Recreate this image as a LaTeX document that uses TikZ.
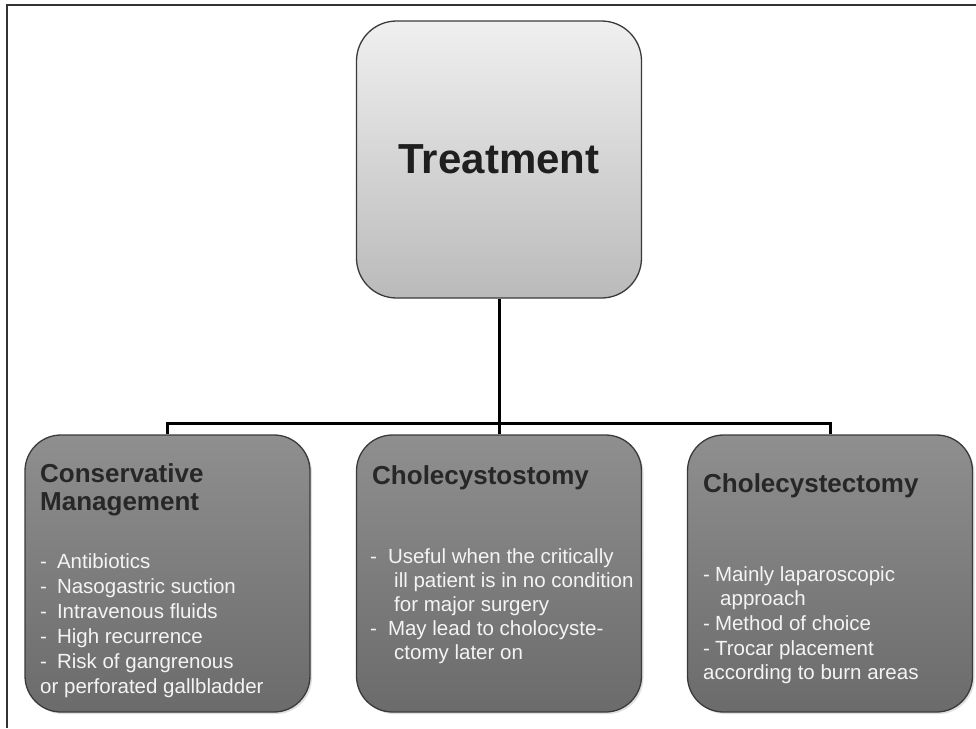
\documentclass[tikz,border=0pt]{standalone}
\usepackage{fontspec}
\setmainfont{Liberation Sans}
\usetikzlibrary{shadows}

\definecolor{boxedge}{HTML}{3A3A3A}
\definecolor{headtext}{HTML}{272727}
\definecolor{bodytext}{HTML}{F4F4F4}

\begin{document}
\begin{tikzpicture}[x=1pt, y=-1pt,
    topbox/.style={draw=boxedge, line width=1.3pt, rounded corners=40pt,
        minimum width=285pt, minimum height=277pt, inner sep=0pt,
        top color=black!6, bottom color=black!27},
    subbox/.style={draw=boxedge, line width=1.3pt, rounded corners=36pt,
        minimum width=285pt, minimum height=277pt, inner sep=0pt,
        top color=black!44, bottom color=black!58,
        drop shadow={opacity=0.25, shadow xshift=2pt, shadow yshift=-2pt}},
    heading/.style={anchor=north west, inner sep=0pt, align=left, text=headtext,
        font=\bfseries\fontsize{26pt}{28pt}\selectfont},
    bullets/.style={anchor=north west, inner sep=0pt, align=left, text=bodytext},
    link/.style={line width=3pt, black}]

    \useasboundingbox (0,0) rectangle (976,728);

    % Frame round the figure
    \draw[line width=2pt, black!80] (976,5) -- (7,5) -- (7,728);

    % Top box
    \node[topbox, text=black!88, font=\bfseries\fontsize{42pt}{48pt}\selectfont]
        (treat) at (499,159.5) {Treatment};

    % Three boxes below
    \node[subbox] (cons) at (167.5,573.5) {};
    \node[subbox] (stomy) at (499,573.5) {};
    \node[subbox] (ectomy) at (830,573.5) {};

    % Connectors
    \coordinate (bus) at (499,423);
    \draw[link] (treat.south) -- (bus);
    \draw[link] (cons.north) |- (bus) -| (ectomy.north);
    \draw[link] (bus) -- (stomy.north);

    % Headings
    \node[heading] (conshead) at (40,463) {Conservative\\Management};
    \node[heading] (stomyhead) at (372,465) {Cholecystostomy};
    \node[heading] (ectomyhead) at (703,473) {Cholecystectomy};

    % Lists
    \node[bullets, font=\fontsize{20.5pt}{25pt}\selectfont] (consbody) at (40,553)
        {-\hspace{10pt}Antibiotics\\
         -\hspace{10pt}Nasogastric suction\\
         -\hspace{10pt}Intravenous fluids\\
         -\hspace{10pt}High recurrence\\
         -\hspace{10pt}Risk of gangrenous\\
         or perforated gallbladder};
    \node[bullets, font=\fontsize{20.5pt}{24pt}\selectfont] (stomybody) at (370,548)
        {-\hspace{11pt}Useful when the critically\\
         \hspace{24pt}ill patient is in no condition\\
         \hspace{24pt}for major surgery\\
         -\hspace{11pt}May lead to cholocyste-\\
         \hspace{24pt}ctomy later on};
    \node[bullets, font=\fontsize{20.5pt}{24.7pt}\selectfont] (ectomybody) at (703,566)
        {-\hspace{5pt}Mainly laparoscopic\\
         \hspace{17pt}approach\\
         -\hspace{5pt}Method of choice\\
         -\hspace{5pt}Trocar placement\\
         according to burn areas};

\end{tikzpicture}
\end{document}
